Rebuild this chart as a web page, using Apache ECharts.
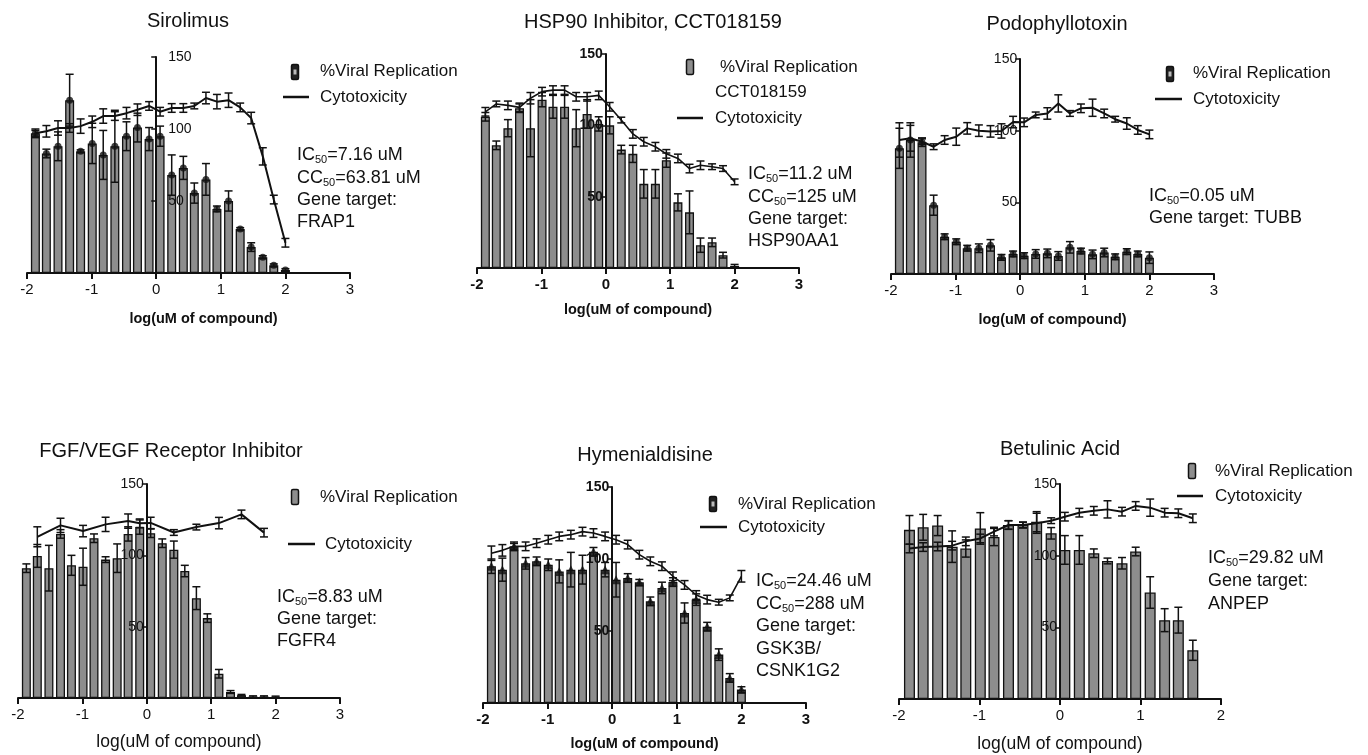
<!DOCTYPE html>
<html>
<head>
<meta charset="utf-8">
<title>Viral replication vs cytotoxicity</title>
<script src="https://cdn.jsdelivr.net/npm/echarts@6/dist/echarts.min.js"></script>
<style>
  html, body { margin: 0; padding: 0; background: #fff; }
  #chart { width: 1368px; height: 755px; }
</style>
</head>
<body>
<div id="chart"></div>
<script>
// log10(uM) of each dilution (1.5-fold steps)
const doses = [-1.87, -1.70, -1.52, -1.34, -1.17, -0.99, -0.82, -0.64, -0.46, -0.29, -0.11, 0.06,
  0.24, 0.42, 0.59, 0.77, 0.94, 1.12, 1.30, 1.47, 1.65, 1.82, 2.00];
const betulinicDoses = doses.slice(0, 21);
const fgfCytoDoses = [-1.70, -1.34, -0.99, -0.64, -0.29, -0.11, 0.06, 0.42, 0.77, 1.12, 1.47, 1.82];

const xTicks = [-2, -1, 0, 1, 2, 3];
const yTicks = [50, 100, 150];

// Sirolimus
const sirolimusViral = [97, 83, 88, 120, 84.5, 90, 82, 88, 95, 101, 93, 95, 68, 73, 55.5, 65, 44.5, 50, 30.5, 18, 11, 5.3, 2];
const sirolimusViralErr = [3, 3, 10, 18, 1, 14, 17, 25, 10, 10, 8, 7, 14, 8, 7, 11, 2, 7, 1, 3, 1, 1, 1];
const sirolimusCyto = [97, 98.4, 100.7, 100.7, 102, 105, 109, 109, 111, 113.4, 116, 112, 114.6, 114.6, 116, 121.5, 119, 120, 115, 107.6, 81, 51, 21];
const sirolimusCytoErr = [2, 4, 5, 3, 5, 4, 5, 3, 4, 4, 3, 3, 3, 3, 2, 4, 5, 5, 3, 4, 6, 3, 3];

// HSP90 inhibitor
const hspViral = [106, 86, 98, 112, 98, 118, 113, 113, 98, 108, 101, 100, 83, 80, 59, 59, 75.6, 46, 39, 16, 18, 9, 1.5];
const hspViralErr = [3, 3, 6, 3, 20, 5, 8, 8, 13, 10, 5, 6, 3, 6, 10, 10, 5, 6, 15, 5, 3, 2, 1];
const hspCyto = [109.5, 115, 114, 112.6, 119, 123.6, 124.7, 124.7, 120, 120, 121, 113, 103.7, 94, 88.5, 85, 80, 76.8, 69.7, 72, 71, 69.7, 60.4];
const hspCytoErr = [3, 2, 3, 3, 4, 3, 3, 3, 3, 3, 3, 3, 2, 3, 3, 3, 3, 3, 3, 3, 2, 2, 2];

// Podophyllotoxin
const podoViral = [87.7, 93.5, 92, 48, 26, 22.5, 18, 18, 20, 11.6, 14, 12.8, 14, 14.4, 12.6, 18.6, 16, 13.7, 15, 12, 15.6, 14, 11.4];
const podoViralErr = [14, 12, 3, 7, 2, 2, 2, 3, 4, 2, 2, 2, 3, 3, 3, 4, 2, 3, 3, 2, 2, 2, 4];
const podoCyto = [93.5, 94.7, 92.3, 88.8, 93.5, 95.8, 101.6, 100, 99.5, 99.8, 106, 105.8, 111, 112, 119, 112, 115.6, 116, 112, 108, 105, 100.5, 97.4];
const podoCytoErr = [12, 9, 2, 2, 3, 6, 4, 4, 4, 5, 4, 3, 2, 4, 6, 2, 3, 6, 3, 2, 4, 3, 3];

// FGF/VEGF receptor inhibitor
const fgfViral = [91, 99.6, 91, 115, 93, 92, 112, 97, 98, 115, 119.8, 115.5, 108.5, 104, 89, 70, 56, 17, 4.2, 2, 1, 1, 0.8];
const fgfViralErr = [3, 8, 16, 3, 7, 13, 3, 2, 10, 5, 5, 3, 3, 6, 4, 8, 3, 3, 1, 0.5, 0.5, 0.5, 0.5];
const fgfCyto = [113, 121, 117, 121.7, 124, 122.5, 122.7, 116, 119.8, 122.6, 128.7, 115.9];
const fgfCytoErr = [7, 5, 4, 5, 5, 3, 4, 2, 2, 4, 3, 3];

// Hymenialdisine
const hymViral = [95, 92.6, 108.8, 97, 98.4, 96, 91.4, 92.6, 92.6, 105, 92.6, 85.6, 86.8, 83.8, 70.6, 79.9, 84, 62.5, 71.8, 53, 33.6, 17.4, 9.3];
const hymViralErr = [5, 8, 2, 4, 3, 4, 8, 12, 10, 3, 5, 12, 3, 2, 3, 4, 3, 7, 4, 3, 4, 3, 2];
const hymCyto = [104, 106, 108.8, 108.8, 111, 113.4, 115.7, 116.9, 119, 118, 115.7, 113.4, 110, 103, 98.4, 95, 88, 82, 75, 71.8, 70, 73, 88];
const hymCytoErr = [5, 4, 3, 3, 3, 3, 3, 3, 3, 3, 3, 3, 3, 3, 3, 3, 3, 3, 3, 3, 2, 2, 4];

// Betulinic acid
const betViral = [118, 119.8, 121, 106.3, 105, 119, 113, 121.4, 121.4, 123.7, 115.6, 104, 104, 101.7, 96.3, 94.7, 102.9, 74.3, 55, 55, 34];
const betViralErr = [10, 9, 7, 11, 6, 11, 6, 3, 2, 7, 4, 10, 10, 3, 2, 4, 3, 11, 8, 9, 7];
const betCyto = [105, 106, 106.4, 107, 110, 112, 116.8, 121.4, 121.4, 122.6, 124.4, 127.2, 130, 131.3, 132.3, 130.7, 134.7, 133.5, 130, 129.6, 126.1];
const betCytoErr = [3, 3, 3, 3, 3, 3, 3, 3, 2, 7, 2, 3, 3, 3, 6, 3, 3, 6, 3, 3, 3];

const FONT = '"Liberation Sans", Arial, Helvetica, sans-serif';
const INK = '#111';
const BAR_FILL = '#8d8d8d';

const panels = [
  {
    title: 'Sirolimus', titlePos: [188, 21],
    grid: { left: 27, top: 57, width: 323, height: 216 }, xMax: 3,
    x: doses, viral: sirolimusViral, viralErr: sirolimusViralErr,
    cx: doses, cyto: sirolimusCyto, cytoErr: sirolimusCytoErr,
    marker: 'circle', barWidth: 9, lineWidth: 2, tickBold: false, nameBold: true, nameSize: 14.5, nameGap: 38, namePad: 30, labelInside: true,
    legend: { icon: [295, 72], dark: true, text: [320, 71], line: [283, 309, 97], lineText: [320, 97] },
    notes: { x: 297, ys: [155, 178, 200, 222], lines: ['{n|IC}{s|50}{n|=7.16 uM}', '{n|CC}{s|50}{n|=63.81 uM}', 'Gene target:', 'FRAP1'] }
  },
  {
    title: 'HSP90 Inhibitor, CCT018159', titlePos: [653, 22],
    grid: { left: 477, top: 54, width: 322, height: 214 }, xMax: 3,
    x: doses, viral: hspViral, viralErr: hspViralErr,
    cx: doses, cyto: hspCyto, cytoErr: hspCytoErr,
    marker: null, barWidth: 9, lineWidth: 1.6, tickBold: true, nameBold: true, nameSize: 14.5, nameGap: 34, namePad: 0, labelInside: false,
    legend: { icon: [690, 67], dark: false, text: [720, 67], extra: ['CCT018159', 715, 92], line: [677, 703, 118], lineText: [715, 118] },
    notes: { x: 748, ys: [174, 197, 219, 241], lines: ['{n|IC}{s|50}{n|=11.2 uM}', '{n|CC}{s|50}{n|=125 uM}', 'Gene target:', 'HSP90AA1'] }
  },
  {
    title: 'Podophyllotoxin', titlePos: [1057, 24],
    grid: { left: 891, top: 59, width: 323, height: 215 }, xMax: 3,
    x: doses, viral: podoViral, viralErr: podoViralErr,
    cx: doses, cyto: podoCyto, cytoErr: podoCytoErr,
    marker: 'circle', barWidth: 9, lineWidth: 2, tickBold: false, nameBold: true, nameSize: 14.5, nameGap: 38, namePad: 0, labelInside: false,
    legend: { icon: [1170, 74], dark: true, text: [1193, 73], line: [1155, 1182, 99], lineText: [1193, 99] },
    notes: { x: 1149, ys: [196, 218], lines: ['{n|IC}{s|50}{n|=0.05 uM}', 'Gene target: TUBB'] }
  },
  {
    title: 'FGF/VEGF Receptor Inhibitor', titlePos: [171, 451],
    grid: { left: 18, top: 484, width: 322, height: 214 }, xMax: 3,
    x: doses, viral: fgfViral, viralErr: fgfViralErr,
    cx: fgfCytoDoses, cyto: fgfCyto, cytoErr: fgfCytoErr,
    marker: null, barWidth: 9, lineWidth: 2, tickBold: false, nameBold: false, nameSize: 17.5, nameGap: 35, namePad: 0, labelInside: false,
    legend: { icon: [295, 497], dark: false, text: [320, 497], line: [288, 315, 544], lineText: [325, 544] },
    notes: { x: 277, ys: [597, 619, 641], lines: ['{n|IC}{s|50}{n|=8.83 uM}', 'Gene target:', 'FGFR4'] }
  },
  {
    title: 'Hymenialdisine', titlePos: [645, 455],
    grid: { left: 483, top: 487, width: 323, height: 216 }, xMax: 3,
    x: doses, viral: hymViral, viralErr: hymViralErr,
    cx: doses, cyto: hymCyto, cytoErr: hymCytoErr,
    marker: 'triangle', barWidth: 9, lineWidth: 1.6, tickBold: true, nameBold: true, nameSize: 14.5, nameGap: 33, namePad: 0, labelInside: false,
    legend: { icon: [713, 504], dark: true, text: [738, 504], line: [700, 727, 527], lineText: [738, 527] },
    notes: { x: 756, ys: [581, 604, 626, 649, 671], lines: ['{n|IC}{s|50}{n|=24.46 uM}', '{n|CC}{s|50}{n|=288 uM}', 'Gene target:', 'GSK3B/', 'CSNK1G2'] }
  },
  {
    title: 'Betulinic Acid', titlePos: [1060, 449],
    grid: { left: 899, top: 484, width: 322, height: 215 }, xMax: 2,
    x: betulinicDoses, viral: betViral, viralErr: betViralErr,
    cx: betulinicDoses, cyto: betCyto, cytoErr: betCytoErr,
    marker: null, barWidth: 11, lineWidth: 2, tickBold: false, nameBold: false, nameSize: 17.5, nameGap: 36, namePad: 0, labelInside: false,
    legend: { icon: [1192, 471], dark: false, text: [1215, 471], line: [1177, 1203, 496], lineText: [1215, 496] },
    notes: { x: 1208, ys: [558, 581, 604], lines: ['{n|IC}{s|50}{n|=29.82 uM}', 'Gene target:', 'ANPEP'] }
  }
];

function errorBars(idx, xs, ys, errs, name, z) {
  return {
    type: 'custom',
    name: name,
    xAxisIndex: idx,
    yAxisIndex: idx,
    silent: true,
    z: z,
    encode: { x: 0, y: 1 },
    data: xs.map((x, i) => [x, ys[i], errs[i]]),
    renderItem: function (params, api) {
      const x = api.value(0), y = api.value(1), e = api.value(2);
      const hi = api.coord([x, y + e]);
      const lo = api.coord([x, Math.max(0, y - e)]);
      const w = 4;
      const st = { stroke: INK, lineWidth: 1.5 };
      return {
        type: 'group',
        children: [
          { type: 'line', shape: { x1: hi[0], y1: hi[1], x2: lo[0], y2: lo[1] }, style: st },
          { type: 'line', shape: { x1: hi[0] - w, y1: hi[1], x2: hi[0] + w, y2: hi[1] }, style: st },
          { type: 'line', shape: { x1: lo[0] - w, y1: lo[1], x2: lo[0] + w, y2: lo[1] }, style: st }
        ]
      };
    }
  };
}

function textEl(x, y, text, size, extra) {
  return {
    type: 'text', x: x, y: y, silent: true,
    style: Object.assign({
      text: text, fontSize: size, fontFamily: FONT, fill: INK,
      align: 'left', verticalAlign: 'middle', textAlign: 'left', textVerticalAlign: 'middle'
    }, extra || {})
  };
}

const grids = [], xAxes = [], yAxes = [], series = [], graphics = [];

panels.forEach((p, i) => {
  grids.push(Object.assign({ containLabel: false }, p.grid));

  xAxes.push({
    gridIndex: i, type: 'value', min: -2, max: p.xMax, interval: 1,
    name: 'log(uM of compound)', nameLocation: 'middle', nameGap: p.nameGap,
    nameTextStyle: {
      fontFamily: FONT, fontSize: p.nameSize, fontWeight: p.nameBold ? 'bold' : 'normal',
      color: INK, padding: [0, 0, 0, p.namePad]
    },
    axisLine: { onZero: false, lineStyle: { color: INK, width: 2 } },
    axisTick: { length: 6, lineStyle: { color: INK, width: 2 } },
    axisLabel: {
      fontFamily: FONT, fontSize: 15, fontWeight: p.tickBold ? 'bold' : 'normal', color: INK, margin: 9,
      formatter: v => (xTicks.includes(v) ? String(v) : '')
    },
    splitLine: { show: false }
  });

  // the y axis stands at x = 0 of the log-dose axis, drawn over the bars
  const zeroShift = p.grid.width * 2 / (p.xMax + 2);
  yAxes.push({
    gridIndex: i, type: 'value', min: 0, max: 150, interval: 50, z: 10,
    position: 'left', offset: -zeroShift,
    axisLine: { onZero: false, lineStyle: { color: INK, width: 2 } },
    axisTick: { length: 5, lineStyle: { color: INK, width: 1.5 } },
    axisLabel: {
      fontFamily: FONT, fontSize: 14, fontWeight: p.tickBold ? 'bold' : 'normal', color: INK,
      margin: p.labelInside ? 12 : 3, inside: p.labelInside,
      formatter: v => (yTicks.includes(v) ? String(v) : '')
    },
    splitLine: { show: false }
  });

  series.push({
    type: 'bar', name: '%Viral Replication', xAxisIndex: i, yAxisIndex: i,
    barWidth: p.barWidth, z: 2, silent: true,
    itemStyle: { color: BAR_FILL, borderColor: INK, borderWidth: 1.3 },
    data: p.x.map((x, k) => [x, p.viral[k]])
  });
  series.push(errorBars(i, p.x, p.viral, p.viralErr, '%Viral Replication', 3));
  if (p.marker) {
    series.push({
      type: 'scatter', name: '%Viral Replication', xAxisIndex: i, yAxisIndex: i, silent: true,
      symbol: p.marker, symbolSize: p.marker === 'triangle' ? 9 : 7, z: 4,
      itemStyle: { color: INK },
      data: p.x.map((x, k) => [x, p.viral[k]])
    });
  }
  series.push({
    type: 'line', name: 'Cytotoxicity', xAxisIndex: i, yAxisIndex: i, silent: true,
    showSymbol: false, z: 5,
    lineStyle: { color: INK, width: p.lineWidth },
    data: p.cx.map((x, k) => [x, p.cyto[k]])
  });
  series.push(errorBars(i, p.cx, p.cyto, p.cytoErr, 'Cytotoxicity', 6));

  // title
  graphics.push(textEl(p.titlePos[0], p.titlePos[1], p.title, 20, { align: 'center', textAlign: 'center' }));

  // legend
  const L = p.legend;
  graphics.push({
    type: 'rect', silent: true,
    shape: { x: L.icon[0] - 3.5, y: L.icon[1] - 7.5, width: 7, height: 15, r: 1.5 },
    style: { fill: L.dark ? '#222' : BAR_FILL, stroke: INK, lineWidth: 1.5 }
  });
  if (L.dark) {
    graphics.push({
      type: 'rect', silent: true,
      shape: { x: L.icon[0] - 1.5, y: L.icon[1] - 2.5, width: 3, height: 5 },
      style: { fill: '#bbb' }
    });
  }
  graphics.push(textEl(L.text[0], L.text[1], '%Viral Replication', 17));
  if (L.extra) graphics.push(textEl(L.extra[1], L.extra[2], L.extra[0], 17));
  graphics.push({
    type: 'line', silent: true,
    shape: { x1: L.line[0], y1: L.line[2], x2: L.line[1], y2: L.line[2] },
    style: { stroke: INK, lineWidth: 2.5 }
  });
  graphics.push(textEl(L.lineText[0], L.lineText[1], 'Cytotoxicity', 17));

  // annotations
  p.notes.lines.forEach((line, k) => {
    graphics.push(textEl(p.notes.x, p.notes.ys[k], line, 18, {
      rich: {
        n: { fontSize: 18, fontFamily: FONT, fill: INK },
        s: { fontSize: 11, fontFamily: FONT, fill: INK, padding: [10, 0, 0, 0] }
      }
    }));
  });
});

const chart = echarts.init(document.getElementById('chart'), null, { renderer: 'canvas' });
chart.setOption({
  backgroundColor: '#fff',
  animation: false,
  grid: grids,
  xAxis: xAxes,
  yAxis: yAxes,
  series: series,
  graphic: { elements: graphics }
});
</script>
</body>
</html>
